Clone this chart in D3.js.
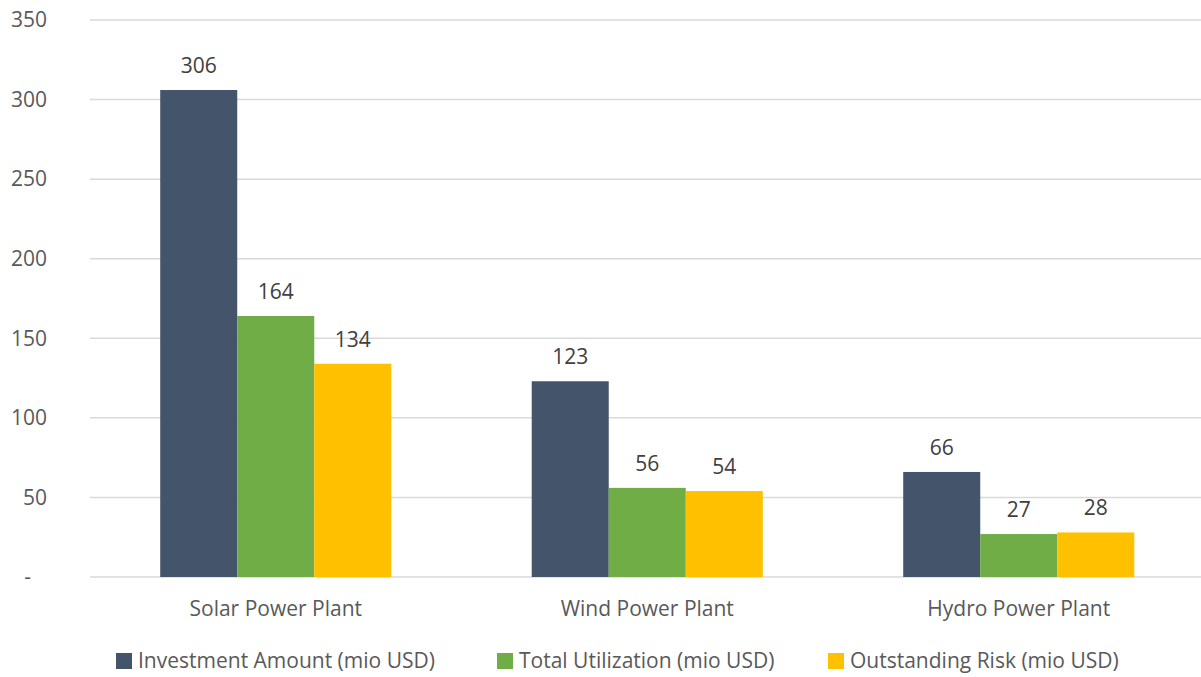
<!DOCTYPE html>
<html>
<head>
<meta charset="utf-8">
<script src="https://cdn.jsdelivr.net/npm/d3@7"></script>
<style>
  body { margin: 0; background: #fff; }
  svg { font-family: "Open Sans", sans-serif; }
</style>
</head>
<body>
<div id="chart"></div>
<script>
const categories = ["Solar Power Plant", "Wind Power Plant", "Hydro Power Plant"];
const seriesNames = ["Investment Amount (mio USD)", "Total Utilization (mio USD)", "Outstanding Risk (mio USD)"];
const investment = [306, 123, 66];
const utilization = [164, 56, 27];
const risk = [134, 54, 28];
const yTicks = [0, 50, 100, 150, 200, 250, 300, 350];
const colors = ["#44546A", "#70AD47", "#FFC000"];

const W = 1201, H = 677;
const margin = { top: 20, right: 0, bottom: 100, left: 90 };

const svg = d3.select("#chart").append("svg")
  .attr("width", W).attr("height", H);

const x0 = d3.scaleBand()
  .domain(categories)
  .range([margin.left, 1204.5])
  .paddingInner(0.378)
  .paddingOuter(0.189);

const x1 = d3.scaleBand()
  .domain(seriesNames)
  .range([0, x0.bandwidth()]);

const y = d3.scaleLinear()
  .domain([0, 350])
  .range([H - margin.bottom, margin.top]);

// grid lines
svg.append("g")
  .selectAll("line")
  .data(yTicks)
  .enter().append("line")
  .attr("x1", margin.left).attr("x2", W - margin.right)
  .attr("y1", d => y(d)).attr("y2", d => y(d))
  .attr("stroke", "#d9d9d9").attr("stroke-width", 1.5);

// y axis labels
const yAxis = svg.append("g")
  .attr("transform", `translate(${margin.left},0)`)
  .call(d3.axisLeft(y).tickValues(yTicks).tickSize(0).tickPadding(43)
    .tickFormat(d => d === 0 ? "-" : d));
yAxis.select(".domain").remove();
yAxis.selectAll("text")
  .attr("font-size", 21).attr("fill", "#595959")
  .attr("font-family", "Open Sans, sans-serif");
yAxis.selectAll("text").filter(d => d === 0).attr("dx", -16);

// data
const rows = categories.map((c, i) => ({
  cat: c,
  vals: [investment[i], utilization[i], risk[i]]
}));

const groups = svg.selectAll(".grp")
  .data(rows)
  .enter().append("g")
  .attr("class", "grp")
  .attr("transform", d => `translate(${x0(d.cat)},0)`);

groups.selectAll("rect")
  .data(d => d.vals.map((v, j) => ({ name: seriesNames[j], v, j })))
  .enter().append("rect")
  .attr("x", d => x1(d.name))
  .attr("width", x1.bandwidth())
  .attr("y", d => y(d.v))
  .attr("height", d => y(0) - y(d.v))
  .attr("fill", d => colors[d.j]);

groups.selectAll(".lbl")
  .data(d => d.vals.map((v, j) => ({ name: seriesNames[j], v, j })))
  .enter().append("text")
  .attr("class", "lbl")
  .attr("x", d => x1(d.name) + x1.bandwidth() / 2)
  .attr("y", d => y(d.v) - 17)
  .attr("text-anchor", "middle")
  .attr("font-size", 21)
  .attr("fill", "#404040")
  .text(d => d.v);

// x axis labels
svg.append("g")
  .selectAll("text")
  .data(categories)
  .enter().append("text")
  .attr("x", d => x0(d) + x0.bandwidth() / 2)
  .attr("y", y(0) + 39)
  .attr("text-anchor", "middle")
  .attr("font-size", 21)
  .attr("fill", "#595959")
  .text(d => d);

// legend
const legendX = [116, 497, 828];
const legend = svg.append("g")
  .selectAll("g")
  .data(seriesNames)
  .enter().append("g")
  .attr("transform", (d, i) => `translate(${legendX[i]},${H - 16})`);

legend.append("rect")
  .attr("x", 0).attr("y", -8)
  .attr("width", 16).attr("height", 16)
  .attr("fill", (d, i) => colors[i]);

legend.append("text")
  .attr("x", 22).attr("y", 7)
  .attr("font-size", 21)
  .attr("fill", "#595959")
  .text(d => d);
</script>
</body>
</html>
